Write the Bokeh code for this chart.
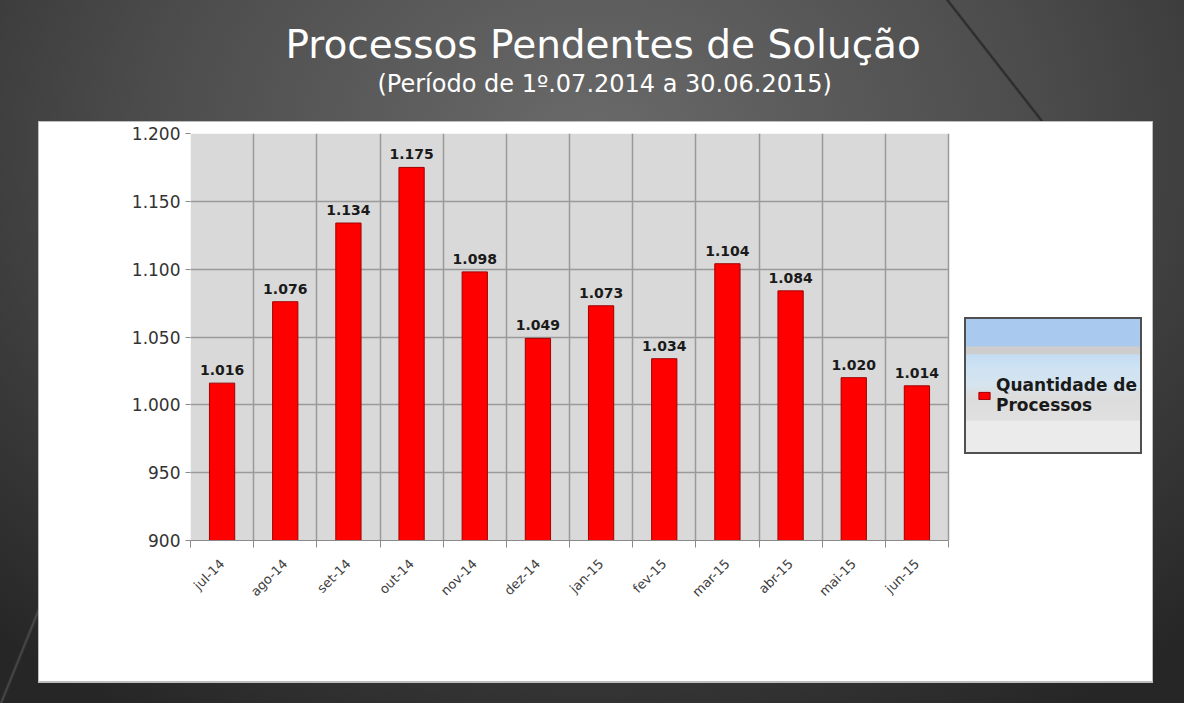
import math
from bokeh.plotting import figure
from bokeh.models import (ColumnDataSource, Range1d, FixedTicker, LabelSet,
                          Legend, LegendItem, Title, BoxAnnotation, Grid)
from bokeh.layouts import column
from bokeh.core.properties import value
from bokeh.embed import file_html
from bokeh.resources import INLINE

# ---------------- data ----------------
months = ["jul-14", "ago-14", "set-14", "out-14", "nov-14", "dez-14",
          "jan-15", "fev-15", "mar-15", "abr-15", "mai-15", "jun-15"]
values = [1016, 1076, 1134, 1175, 1098, 1049, 1073, 1034, 1104, 1084, 1020, 1014]
y_ticks = [900, 950, 1000, 1050, 1100, 1150, 1200]
y_tick_labels = ["900", "950", "1.000", "1.050", "1.100", "1.150", "1.200"]
series_name = "Quantidade de\nProcessos"
title_text = "Processos Pendentes de Solução"
subtitle_text = "(Período de 1º.07.2014  a  30.06.2015)"

W, H = 1184, 703
# plot area geometry (px): category area 758 px wide inside a 960 px frame
CAT_PX, FRAME_PX = 758, 960

n = len(months)
xs = list(range(n))
labels = [f"{v:,}".replace(",", ".") for v in values]
src = ColumnDataSource(dict(x=xs, v=values, lab=labels))

x_end = -0.5 + FRAME_PX * n / CAT_PX
p = figure(width=W, height=H, x_range=Range1d(-0.5, x_end),
           y_range=Range1d(y_ticks[0], y_ticks[-1]),
           output_backend="svg", toolbar_location=None, title=None,
           min_border_left=190, min_border_right=W - 190 - FRAME_PX,
           min_border_top=133, min_border_bottom=163)

p.border_fill_color = None
p.background_fill_color = None
p.outline_line_color = None

# gray plotting area covering the categories
p.add_layout(BoxAnnotation(left=-0.5, right=n - 0.5, bottom=y_ticks[0],
                           top=y_ticks[-1], fill_color="#d9d9d9",
                           fill_alpha=1, line_color=None, level="image"))

# titles (stacked from the plot upwards: spacer, subtitle, title)
spacer = Title(text=" ", text_font_size="1px", standoff=31)
p.add_layout(spacer, "above")
sub = Title(text=subtitle_text, align="left", text_color="white",
            text_font="DejaVu Sans", text_font_size="24px",
            text_font_style="normal", offset=187, standoff=4)
p.add_layout(sub, "above")
main = Title(text=title_text, align="left", text_color="white",
             text_font="DejaVu Sans", text_font_size="39px",
             text_font_style="normal", offset=95, standoff=-3)
p.add_layout(main, "above")

bars = p.vbar(x="x", top="v", bottom=y_ticks[0], width=0.4, source=src,
              fill_color="#ff0000", line_color="#a00000", line_width=1)

p.add_layout(LabelSet(x="x", y="v", text="lab", source=src,
                      text_align="center", text_baseline="alphabetic",
                      y_offset=8, text_font=value("DejaVu Sans"),
                      text_font_size="14px", text_font_style="bold",
                      text_color="#1a1a1a"))

# x axis
bounds = [i - 0.5 for i in range(n + 1)]
p.xaxis.bounds = (-0.5, n - 0.5)
p.xaxis.ticker = FixedTicker(ticks=xs, minor_ticks=bounds)
p.xaxis.major_label_overrides = {i: m for i, m in zip(xs, months)}
p.xaxis.major_label_orientation = math.pi / 4
p.xaxis.major_tick_in = 0
p.xaxis.major_tick_out = 0
p.xaxis.minor_tick_in = 0
p.xaxis.minor_tick_out = 7
p.xaxis.minor_tick_line_color = "#8a8a8a"
p.xaxis.axis_line_color = "#8a8a8a"
p.xaxis.major_label_text_font = "DejaVu Sans"
p.xaxis.major_label_text_font_size = "13px"
p.xaxis.major_label_text_color = "#404040"
p.xaxis.major_label_standoff = 14

# y axis
p.yaxis.ticker = FixedTicker(ticks=y_ticks)
p.yaxis.major_label_overrides = {t: l for t, l in zip(y_ticks, y_tick_labels)}
p.yaxis.major_tick_in = 0
p.yaxis.major_tick_out = 5
p.yaxis.minor_tick_line_color = None
p.yaxis.major_tick_line_color = "#8a8a8a"
p.yaxis.axis_line_color = None
p.yaxis.major_label_text_font = "DejaVu Sans"
p.yaxis.major_label_text_font_size = "17px"
p.yaxis.major_label_text_color = "#333333"
p.yaxis.major_label_standoff = 5

# grids limited to the category area
p.xgrid.ticker = FixedTicker(ticks=bounds)
p.xgrid.grid_line_color = "#9a9a9a"
p.xgrid.grid_line_width = 1.5
if "cross_bounds" in Grid.properties():
    p.ygrid.ticker = FixedTicker(ticks=y_ticks)
    p.ygrid.cross_bounds = (-0.5, n - 0.5)
    p.ygrid.grid_line_color = "#9a9a9a"
    p.ygrid.grid_line_width = 1.5
else:
    p.ygrid.grid_line_color = None
    p.segment(x0=[-0.5] * len(y_ticks), x1=[n - 0.5] * len(y_ticks),
              y0=y_ticks, y1=y_ticks, line_color="#9a9a9a", line_width=1.5,
              level="underlay")

# legend (to the right of the category area)
legend = Legend(items=[LegendItem(label=series_name, renderers=[bars])],
                location=(787, 125), padding=0, margin=0, spacing=0,
                border_line_color=None, background_fill_alpha=0,
                label_text_font="DejaVu Sans", label_text_font_size="17px",
                label_text_font_style="bold", label_text_color="#1a1a1a",
                glyph_width=14, glyph_height=9, label_standoff=5)
p.add_layout(legend)

bg = ", ".join([
    "linear-gradient(180deg, #a9c9ee 0%, #a9c9ee 20%, #cdcdcd 21%, #cdcdcd 26%, "
    "#c4dcf2 27%, #cfe3f3 38%, #d6e4ee 50%, #dcdcdc 58%, #e0e0e0 76%, "
    "#ebebeb 77%, #ebebeb 100%) 966px 319px / 174px 133px no-repeat",
    "linear-gradient(#505050, #505050) 964px 317px / 178px 137px no-repeat",
    "linear-gradient(#ffffff, #ffffff) 39px 122px / 1113px 559px no-repeat",
    "linear-gradient(#bdbdbd, #bdbdbd) 38px 121px / 1115px 562px no-repeat",
    "linear-gradient(52deg, transparent calc(50% - 2px), rgba(25,25,25,0.75) 50%, "
    "transparent calc(50% + 2px)) 940px 0px / 110px 122px no-repeat",
    "linear-gradient(-68deg, transparent calc(50% - 2px), rgba(110,110,110,0.5) 50%, "
    "transparent calc(50% + 2px)) 0px 560px / 60px 143px no-repeat",
    "radial-gradient(ellipse 75% 95% at 50% 20%, #6a6a6a 0%, #4c4c4c 50%, #262626 100%)",
])

layout = column(p, width=W, height=H, styles={"background": bg})

open("out.html", "w").write(file_html(layout, INLINE))
